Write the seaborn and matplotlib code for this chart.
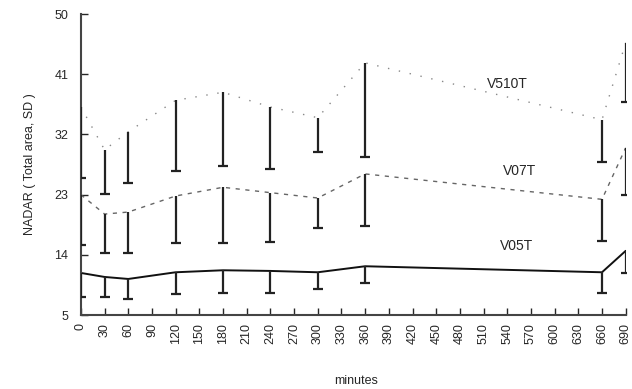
import matplotlib
matplotlib.use("Agg")
import matplotlib.pyplot as plt
import seaborn as sns
import pandas as pd
import numpy as np

minutes = [0, 30, 60, 120, 180, 240, 300, 360, 660, 690]
v510t_mean = [36.1, 29.7, 32.4, 37.1, 38.3, 36.1, 34.5, 42.7, 34.2, 45.7]
v510t_sd = [10.6, 6.6, 7.7, 10.6, 11.0, 9.3, 5.1, 14.1, 6.3, 8.9]
v07t_mean = [23.0, 20.1, 20.4, 22.8, 24.1, 23.3, 22.5, 26.1, 22.3, 30.0]
v07t_sd = [7.5, 5.8, 6.1, 7.0, 8.3, 7.4, 4.5, 7.8, 6.2, 7.1]
v05t_mean = [11.3, 10.7, 10.4, 11.4, 11.7, 11.6, 11.4, 12.3, 11.4, 14.6]
v05t_sd = [3.6, 3.0, 3.0, 3.3, 3.4, 3.3, 2.5, 2.5, 3.1, 3.3]
series = ["V510T", "V07T", "V05T"]
x_ticks = list(range(0, 691, 30))
y_ticks = [5, 14, 23, 32, 41, 50]

sns.set_theme(style="ticks")
plt.rcParams['font.family'] = ['Liberation Sans', 'DejaVu Sans']

means = {"V510T": v510t_mean, "V07T": v07t_mean, "V05T": v05t_mean}
sds = {"V510T": v510t_sd, "V07T": v07t_sd, "V05T": v05t_sd}
rows = []
for s in series:
    for m, v, d in zip(minutes, means[s], sds[s]):
        rows.append({"minutes": m, "value": v, "sd": d, "series": s})
df = pd.DataFrame(rows)

fig = plt.figure(figsize=(6.32, 3.89), dpi=100)
ax = fig.add_axes([0.128, 0.19, 0.862, 0.774])

palette = {"V510T": "#888888", "V07T": "#666666", "V05T": "#111111"}
dashes = {"V510T": (1, 7), "V07T": (3, 4), "V05T": ""}
sizes = {"V510T": 1.0, "V07T": 1.0, "V05T": 1.4}
sns.lineplot(data=df, x="minutes", y="value", hue="series", style="series",
             size="series", sizes=sizes, palette=palette, dashes=dashes,
             legend=False, ax=ax)

for s in series:
    sub = df[df.series == s]
    lo = sub.value - sub.sd
    ax.vlines(sub.minutes, lo, sub.value, color="#222222", lw=1.6, zorder=3)
    ax.scatter(sub.minutes, lo, marker="_", s=60, color="#222222", lw=1.6, zorder=3)

ax.text(540, 39.5, "V510T", fontsize=10, ha="center", va="center")
ax.text(555, 26.5, "V07T", fontsize=10, ha="center", va="center")
ax.text(552, 15.3, "V05T", fontsize=10, ha="center", va="center")

ax.set_xlim(0, 690)
ax.set_ylim(5, 50)
ax.set_xticks(x_ticks)
ax.set_xticklabels([str(t) for t in x_ticks], rotation=90, fontsize=9)
ax.set_yticks(y_ticks)
ax.set_yticklabels([str(t) for t in y_ticks], fontsize=9)
ax.tick_params(direction="in", length=5, width=1)
ax.tick_params(axis="x", pad=6)
ax.tick_params(axis="y", pad=9)
ax.set_xlabel("minutes", fontsize=9)
ax.xaxis.set_label_coords(0.505, -0.20)
ax.set_ylabel("NADAR ( Total area, SD )", fontsize=9)
ax.yaxis.set_label_coords(-0.082, 0.5)
for sp in ["top", "right"]:
    ax.spines[sp].set_visible(False)
for sp in ["left", "bottom"]:
    ax.spines[sp].set_linewidth(1.5)
    ax.spines[sp].set_color("#444444")

fig.savefig("out.png", dpi=100)
